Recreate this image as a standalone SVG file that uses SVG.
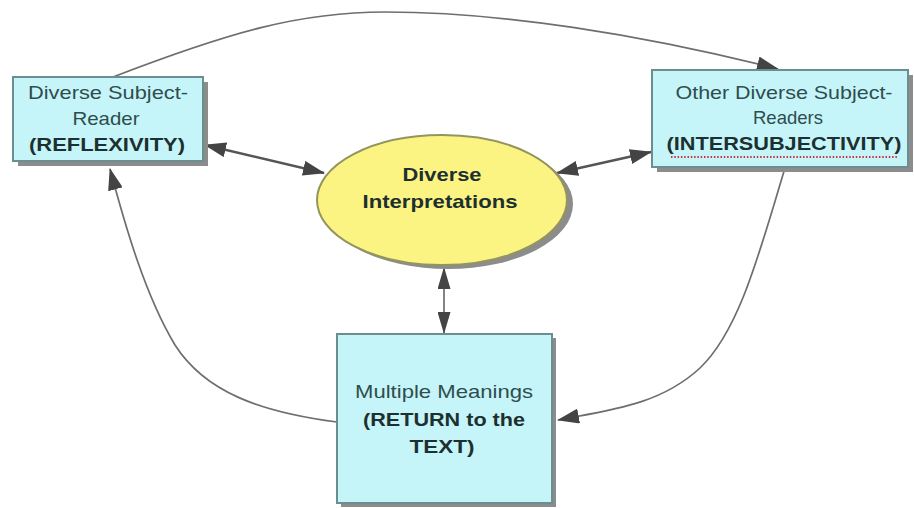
<svg xmlns="http://www.w3.org/2000/svg" width="914" height="508" viewBox="0 0 914 508">
  <defs>
    <marker id="arrow" viewBox="0 0 22 15" refX="21" refY="7.5" markerWidth="22" markerHeight="15" markerUnits="userSpaceOnUse" orient="auto-start-reverse">
      <path d="M0,0 L22,7.5 L0,15 Z" fill="#444"/>
    </marker>
    <marker id="arrowSm" viewBox="0 0 22 13" refX="21" refY="6.5" markerWidth="22" markerHeight="13" markerUnits="userSpaceOnUse" orient="auto-start-reverse">
      <path d="M0,0 L22,6.5 L0,13 Z" fill="#444"/>
    </marker>
  </defs>
  <style>
    .box { fill: #c6f5f9; stroke: #6b8f91; stroke-width: 2; }
    .shadow { fill: #8c8c8c; }
    .ell { fill: #fbf482; stroke: #94945e; stroke-width: 2; }
    .txt { font-family: "Liberation Sans", Arial, sans-serif; font-size: 19px; fill: #2e4d4d; text-anchor: middle; }
    .b { font-weight: bold; fill: #1d3030; }
    .link { fill: none; stroke: #555; stroke-width: 2.4; }
    .curve { fill: none; stroke: #6e6e6e; stroke-width: 1.7; }
  </style>
  <rect width="914" height="508" fill="#ffffff"/>

  <!-- connectors -->
  <g id="connectors">
    <!-- arc over the top: reader to other readers -->
    <path class="curve" d="M113,77 C 230,32 300,12 385,12 C 500,12 640,34 778,69" marker-end="url(#arrow)"/>
    <!-- reader <-> interpretations -->
    <line class="link" x1="205" y1="145" x2="324" y2="173" marker-start="url(#arrow)" marker-end="url(#arrow)"/>
    <!-- interpretations <-> other readers -->
    <line class="link" x1="557" y1="173" x2="651" y2="152" marker-start="url(#arrow)" marker-end="url(#arrow)"/>
    <!-- interpretations <-> meanings -->
    <line class="curve" x1="444" y1="268" x2="444" y2="333" marker-start="url(#arrowSm)" marker-end="url(#arrowSm)"/>
    <!-- other readers down to meanings -->
    <path class="curve" d="M785,168 C 760,250 740,330 700,368 C 660,405 610,410 558,420" marker-end="url(#arrow)"/>
    <!-- meanings back up to reader -->
    <path class="curve" d="M337,422 C 260,412 205,392 175,345 C 145,295 125,225 110,169" marker-end="url(#arrow)"/>
  </g>

  <!-- Diverse Subject-Reader -->
  <g id="node-reader">
    <rect class="shadow" x="18" y="82" width="190" height="84"/>
    <rect class="box" x="13" y="77" width="190" height="84"/>
    <text class="txt" x="108" y="99" textLength="160" lengthAdjust="spacingAndGlyphs">Diverse Subject-</text>
    <text class="txt" x="106" y="125" textLength="67" lengthAdjust="spacingAndGlyphs">Reader</text>
    <text class="txt b" x="107" y="151" textLength="156" lengthAdjust="spacingAndGlyphs">(REFLEXIVITY)</text>
  </g>

  <!-- Other Diverse Subject-Readers -->
  <g id="node-others">
    <rect class="shadow" x="657" y="75" width="256" height="97"/>
    <rect class="box" x="652" y="70" width="256" height="97"/>
    <text class="txt" x="784" y="99" textLength="217" lengthAdjust="spacingAndGlyphs">Other Diverse Subject-</text>
    <text class="txt" x="788" y="124" textLength="70" lengthAdjust="spacingAndGlyphs">Readers</text>
    <text class="txt b" x="784" y="150" textLength="235" lengthAdjust="spacingAndGlyphs">(INTERSUBJECTIVITY)</text>
    <line x1="671" y1="157" x2="898" y2="157" stroke="#d0303a" stroke-width="2" stroke-dasharray="1.5 1.8"/>
  </g>

  <!-- Diverse Interpretations -->
  <g id="node-interpretations">
    <ellipse class="shadow" cx="448" cy="204" rx="125" ry="65"/>
    <ellipse class="ell" cx="442" cy="200" rx="125" ry="65"/>
    <text class="txt b" x="442" y="181" textLength="79" lengthAdjust="spacingAndGlyphs">Diverse</text>
    <text class="txt b" x="440" y="208" textLength="155" lengthAdjust="spacingAndGlyphs">Interpretations</text>
  </g>

  <!-- Multiple Meanings -->
  <g id="node-meanings">
    <rect class="shadow" x="341" y="338" width="215" height="169"/>
    <rect class="box" x="337" y="334" width="215" height="169"/>
    <text class="txt" x="444" y="398" textLength="178" lengthAdjust="spacingAndGlyphs">Multiple Meanings</text>
    <text class="txt b" x="444" y="426" textLength="162" lengthAdjust="spacingAndGlyphs">(RETURN to the</text>
    <text class="txt b" x="442" y="453" textLength="65" lengthAdjust="spacingAndGlyphs">TEXT)</text>
  </g>
</svg>
